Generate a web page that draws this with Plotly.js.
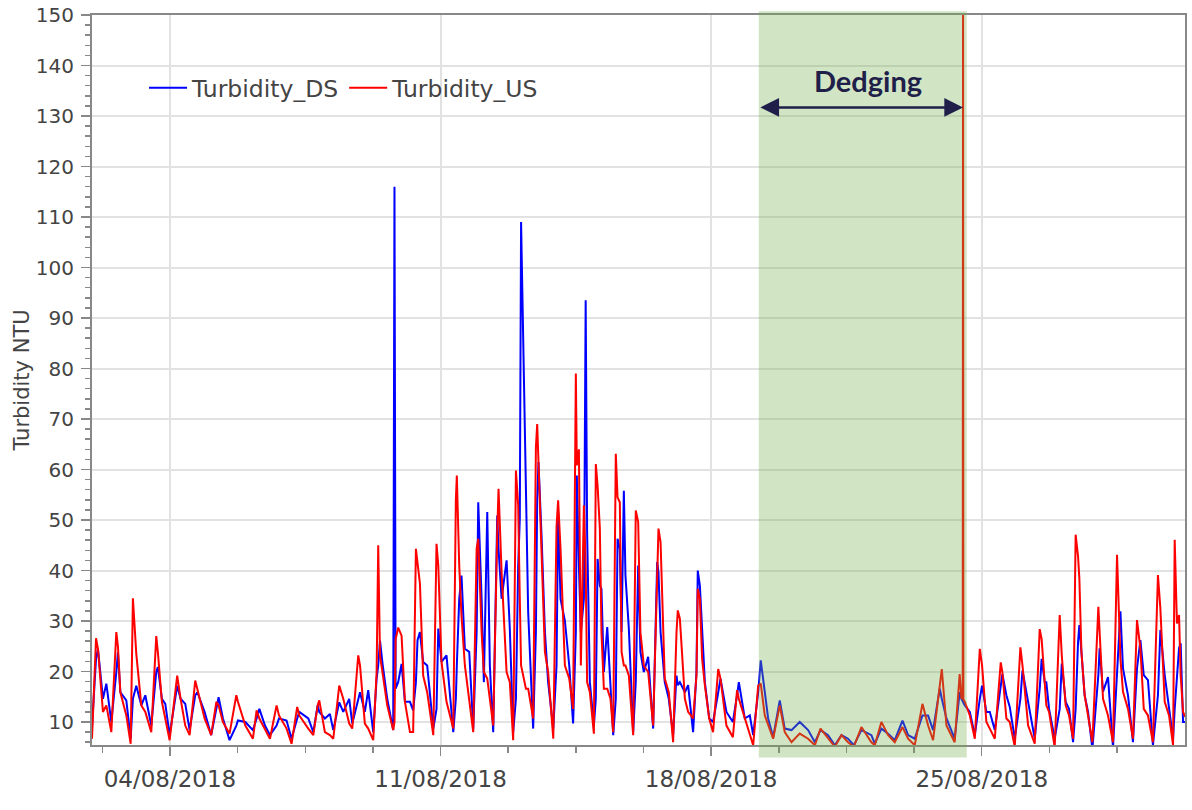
<!DOCTYPE html>
<html><head><meta charset="utf-8">
<script src="https://cdn.plot.ly/plotly-3.0.1.min.js"></script>
<style>html,body{margin:0;padding:0;background:#fff}#chart{width:1192px;height:810px}</style>
</head><body><div id="chart"></div>
<script>
// time origin of the series (hours are counted from here)
const startDate = '2018-08-02T00:00:00Z';

// hours since start
const hours = [
-0.4,2.1,3.3,6.4,8.5,11.6,14.7,15.7,17.2,20.9,23.6,25.0,27.1,30.2,32.7,36.4,39.5,40.5,43.0,45.1,
47.8,52.5,54.6,57.5,60.2,63.7,65.0,69.5,73.6,76.8,78.2,80.9,85.0,89.2,90.2,94.8,99.5,
101.8,103.5,107.0,110.1,114.2,115.7,120.4,123.5,127.0,128.3,133.9,137.0,139.7,140.7,144.2,147.3,149.4,
153.1,155.6,159.3,161.2,164.9,166.0,169.0,171.1,174.2,176.3,177.3,178.4,180.0,182.9,186.6,187.4,188.1,
189.7,191.8,193.9,197.0,
199.0,200.7,201.7,203.2,205.2,207.7,211.5,213.5,214.6,216.6,219.7,223.9,225.5,226.1,227.6,229.0,231.1,
233.8,236.3,238.4,239.4,241.5,242.9,245.0,246.6,248.7,251.2,252.0,253.9,257.0,259.0,261.1,262.8,264.2,
265.2,266.0,269.0,270.4,273.5,275.2,276.0,276.8,278.7,280.8,282.8,286.0,288.0,289.0,290.5,293.2,295.9,
298.3,300.0,300.6,301.9,303.1,305.0,306.1,307.0,308.7,311.2,312.4,313.5,314.9,315.9,317.4,319.5,321.5,
323.2,324.8,325.9,327.3,328.4,329.8,330.8,332.9,335.6,337.2,338.7,340.1,342.2,344.9,348.0,350.5,351.3,
352.6,355.2,357.7,360.4,362.5,363.3,364.6,367.7,369.7,372.8,374.9,375.7,377.0,378.4,380.1,382.8,385.2,
388.4,389.8,393.5,397.5,
400.1,401.2,404.9,408.0,410.1,413.2,414.8,417.3,419.4,422.5,426.6,429.7,433.9,439.0,444.2,448.4,451.9,
456.6,460.8,464.9,469.0,472.6,477.3,483.5,485.6,489.7,493.9,498.0,
502.8,506.3,510.4,515.2,518.7,521.8,525.9,527.2,530.1,535.2,538.3,539.4,540.2,540.4,540.6,541.5,544.6,
547.7,550.8,552.2,554.9,557.0,560.1,563.8,564.8,567.3,569.4,572.5,576.0,577.3,580.8,584.9,588.0,589.2,
591.1,592.1,593.8,597.3,600.4,601.7,604.1,606.2,608.7,610.3,611.8,612.6,613.9,615.9,618.0,620.7,624.4,
625.2,627.3,630.4,633.5,636.0,638.1,639.7,642.8,645.9,648.4,650.5,652.6,655.2,658.3,661.4,662.9,665.6,
668.3,670.8,671.8,673.2,674.5,675.5,677.0,678.3
];

// Turbidity downstream (NTU)
const turbDS = [
9,22.5,24.5,14.6,17.6,10,19.9,23.8,15.9,14.3,6.7,14.6,17.2,13.3,15.3,9.3,19.9,20.9,14.6,13.6,
7.4,17.2,14.6,13.6,8.4,15.3,15.9,12,7.4,12.6,14.9,10.7,6.4,9.3,10.3,10,8.4,
10.7,12.6,9.3,7.4,9.3,10.7,10.3,6.7,10.7,12,10.7,8,13.3,12,10.7,11.6,8.4,
13.9,12,14.6,9.7,14.6,15.9,12,16.3,8,18.6,21.2,26.1,21.5,14.6,8.4,116,16.6,
17.9,21.5,14,14,
12.3,17.9,26.2,27.8,21.9,21.2,8.7,12.6,28.5,21.9,23.2,8,14.6,21.2,34.4,39,24.5,
23.9,8.7,27.8,53.5,34.4,17.9,51.6,21.2,8,50.9,44.3,34.4,42,28.5,8,14.6,41,
50.2,109,55.2,31.8,8.7,27.8,54.2,61.5,46.9,27.8,17.9,8.7,21.2,51.6,34.4,30,21.2,
9.7,27.8,58.8,41,27.8,34.4,93.5,47.6,17.9,9.3,14.6,42.3,37,36.4,19.9,28.8,17.9,
7.4,14.6,46.3,44.3,27.8,55.8,39,28.5,8,17.9,41,23.9,19.9,22.9,8.7,41.7,39.7,
27.8,17.9,14.6,7.4,19.2,17.3,17.9,15.9,17.3,8,19.9,40,37,27.8,17.9,10.7,10,
15.9,18.6,12,10,
15.3,17.9,10.7,11.3,7.4,15.9,22.2,15.3,10.7,7,14.3,8.7,8.4,10,8.4,6,8.4,
7.4,5.4,7.4,6.7,5.4,8.4,7.4,5.7,8.7,7.7,6.4,
10.3,7.4,6.7,11.3,11.3,8.4,16.6,14.6,10.7,6.7,15.9,14.6,14.3,14,13.8,13.3,12,
7.4,14.6,17.2,12,12,8.4,17.2,19.5,15.3,13,6.7,14.6,20.2,14,6.7,16.6,22.5,
17.9,17.9,12.6,6.7,12.6,21.6,14,12.6,6,12.6,25.9,29.2,23.9,15.3,12,4.7,19.3,
24.6,16,18.9,5,19.3,31.9,20.6,15.3,6,20.6,26.2,19.3,18.3,5.4,15.3,28.2,19.3,
13.3,6.7,12.6,19.3,24.6,25.6,10,10
];

// Turbidity upstream (NTU)
const turbUS = [
6.7,26.6,24.5,12,13.3,8,27.8,25,15.9,11.3,5.7,34.5,23.5,13.3,12,8,27,23.8,14,10.7,
6.4,19.2,14.6,9.3,7.4,18.2,16.6,10.7,7.4,14,13.3,10,7.7,15.3,14,9.3,6.7,
12.3,10.7,8.4,6.7,13.3,11.3,8.7,5.7,13,11.3,8.7,7.4,13.3,14.3,8,7.4,6.7,
17.2,14.6,9.7,8.7,23.2,21.2,9.7,8.7,6.4,19.9,45,23.2,19.9,13.3,8.4,10,26.4,
28.7,27.1,14,8,
8,44.3,41.7,37.4,19.2,15.9,7.4,45.3,41,21.9,14,8.7,53.9,58.8,41,31.1,21.2,
14.6,8,44.3,46.3,27.8,19.9,18.6,14.6,9.3,47.6,56.2,39.7,19.9,17.9,6.4,59.8,52.9,
34.4,21.2,16.6,16.6,10.7,64.4,69,60.8,41,23.9,19.9,6.7,48.6,53.9,44.3,21.2,18.6,
12.6,79,60.8,64,21.2,52.9,41,17.9,15.9,7.7,61.1,56.8,48.3,27.8,16.6,16.6,14.6,
8,63.1,54.5,53.5,23.9,21.2,21.2,19.2,7.4,51.9,49.6,27.8,21.2,19.9,9.3,42.3,48.3,
45.6,18.6,15.9,6,27.8,32.1,30.4,14.6,12,10.7,19.2,36.4,34.4,22.5,17.3,10.7,8,
20.5,18.6,9.3,7,
16.3,14.6,10.7,7.4,5.4,17.2,17.6,11.3,9.3,6.7,13.3,8,6,7.7,6.7,5.4,8.7,
6.7,5.1,7.4,6,5.1,9,6,5.4,10,7.4,6,
9,6.7,5.4,13.6,9.3,6.4,16.6,20.5,9.3,6,19.5,14.6,15,160,14.5,14,11.3,
6.7,24.5,21.2,10,8.7,6.7,21.8,19.9,10.7,10,5.1,24.8,21.2,9.3,5.7,28.4,26.4,
18.6,13.3,12,5,31.2,23.2,13.3,11.3,6.7,47.1,42.8,38.5,23.9,15.3,11.3,6,32.8,
27.2,14.6,11.3,6,43.1,22.6,16,12.6,6.7,30.2,24.6,12.6,11.3,6,39.1,32.5,14,
11.3,5.4,46.1,29.5,31.2,19.3,12,11
];

// axis labels
const xTickDates = ['2018-08-04','2018-08-11','2018-08-18','2018-08-25'];
const xTickLabels = ['04/08/2018','11/08/2018','18/08/2018','25/08/2018'];
const xMinorTickDates = ['2018-08-02 06:00','2018-08-05 18:00','2018-08-07 12:00','2018-08-09 06:00',
  '2018-08-12 18:00','2018-08-14 12:00','2018-08-16 06:00','2018-08-19 18:00','2018-08-21 12:00',
  '2018-08-23 06:00','2018-08-26 18:00','2018-08-28 12:00'];

// dredging period (hours since start) and view ranges
const dredgeStartH = 413.6, dredgeEndH = 542.7, dredgeArrowEndH = 540.4, dredgeLabelH = 481.5;
const xRangeH = [-0.4, 678.2];
const yRange = [5.45, 150];

function hToDate(h) {
  const d = new Date(Date.parse(startDate) + h * 3600000);
  return d.toISOString().slice(0, 19).replace('T', ' ');
}
const xDates = hours.map(hToDate);

const FONT = 'DejaVu Sans, Verdana, sans-serif';
const TXT = '#444444';

const traces = [
  {x: xDates, y: turbDS, type: 'scatter', mode: 'lines', name: 'Turbidity_DS',
   line: {color: '#0000ff', width: 2}},
  {x: xDates, y: turbUS, type: 'scatter', mode: 'lines', name: 'Turbidity_US',
   line: {color: '#ff0000', width: 2}}
];

const layout = {
  width: 1192, height: 810,
  margin: {l: 92, r: 7, t: 15, b: 65},
  paper_bgcolor: '#ffffff', plot_bgcolor: '#ffffff',
  showlegend: true,
  legend: {orientation: 'h', x: 0.0476, y: 0.9, xanchor: 'left', yanchor: 'middle',
    bgcolor: 'rgba(255,255,255,0)', borderwidth: 0, itemwidth: 38,
    font: {family: FONT, size: 23.5, color: TXT}},
  xaxis: {
    type: 'date', range: [hToDate(xRangeH[0]), hToDate(xRangeH[1])],
    tickmode: 'array', tickvals: xTickDates, ticktext: xTickLabels,
    ticks: 'outside', ticklen: 9, tickwidth: 1.5, tickcolor: '#888',
    showline: true, linecolor: '#888', linewidth: 2, mirror: true,
    showgrid: true, gridcolor: '#e2e2e2', gridwidth: 2, zeroline: false,
    tickfont: {family: FONT, size: 23, color: TXT}, ticklabelstandoff: 3,
    minor: {tickmode: 'array', tickvals: xMinorTickDates, ticks: 'outside', ticklen: 6,
      tickwidth: 1.5, tickcolor: '#888', showgrid: false}
  },
  yaxis: {
    range: yRange, tickmode: 'linear', tick0: 0, dtick: 10,
    ticks: 'outside', ticklen: 9, tickwidth: 1.5, tickcolor: '#888',
    showline: true, linecolor: '#888', linewidth: 2, mirror: true,
    showgrid: true, gridcolor: '#e2e2e2', gridwidth: 2, zeroline: false,
    tickfont: {family: FONT, size: 20, color: TXT}, ticklabelstandoff: 3,
    minor: {dtick: 2, ticks: 'outside', ticklen: 5, tickwidth: 1.5, tickcolor: '#888', showgrid: false},
    title: {text: 'Turbidity NTU', font: {family: FONT, size: 21, color: TXT}, standoff: 0}
  },
  shapes: [
    // white legend panel hiding the grid behind the legend
    {type: 'rect', xref: 'paper', yref: 'paper', x0: 0.0412, x1: 0.4346, y0: 0.8534, y1: 0.9425,
     fillcolor: '#ffffff', line: {width: 0}, layer: 'below'},
    {type: 'rect', xref: 'x', yref: 'paper', x0: hToDate(dredgeStartH), x1: hToDate(dredgeEndH),
     y0: -0.017, y1: 1.005, fillcolor: '#70ad47', opacity: 0.32, line: {width: 0}, layer: 'above'}
  ],
  annotations: [
    {x: hToDate(dredgeLabelH), y: 137.1, xref: 'x', yref: 'y', text: '<b>Dedging</b>',
     showarrow: false, font: {family: 'Lato, Carlito, sans-serif', size: 29, color: '#1f1f4a'}},
    {x: hToDate(dredgeArrowEndH), y: 131.7, ax: hToDate(dredgeStartH), ay: 131.7, xref: 'x', yref: 'y',
     axref: 'x', ayref: 'y', text: '', showarrow: true, arrowside: 'end+start', arrowhead: 2,
     arrowsize: 1.5, arrowwidth: 2.5, arrowcolor: '#1f1f4a', standoff: 0, startstandoff: 0}
  ]
};

Plotly.newPlot('chart', traces, layout, {displayModeBar: false, staticPlot: true});
</script>
</body></html>
